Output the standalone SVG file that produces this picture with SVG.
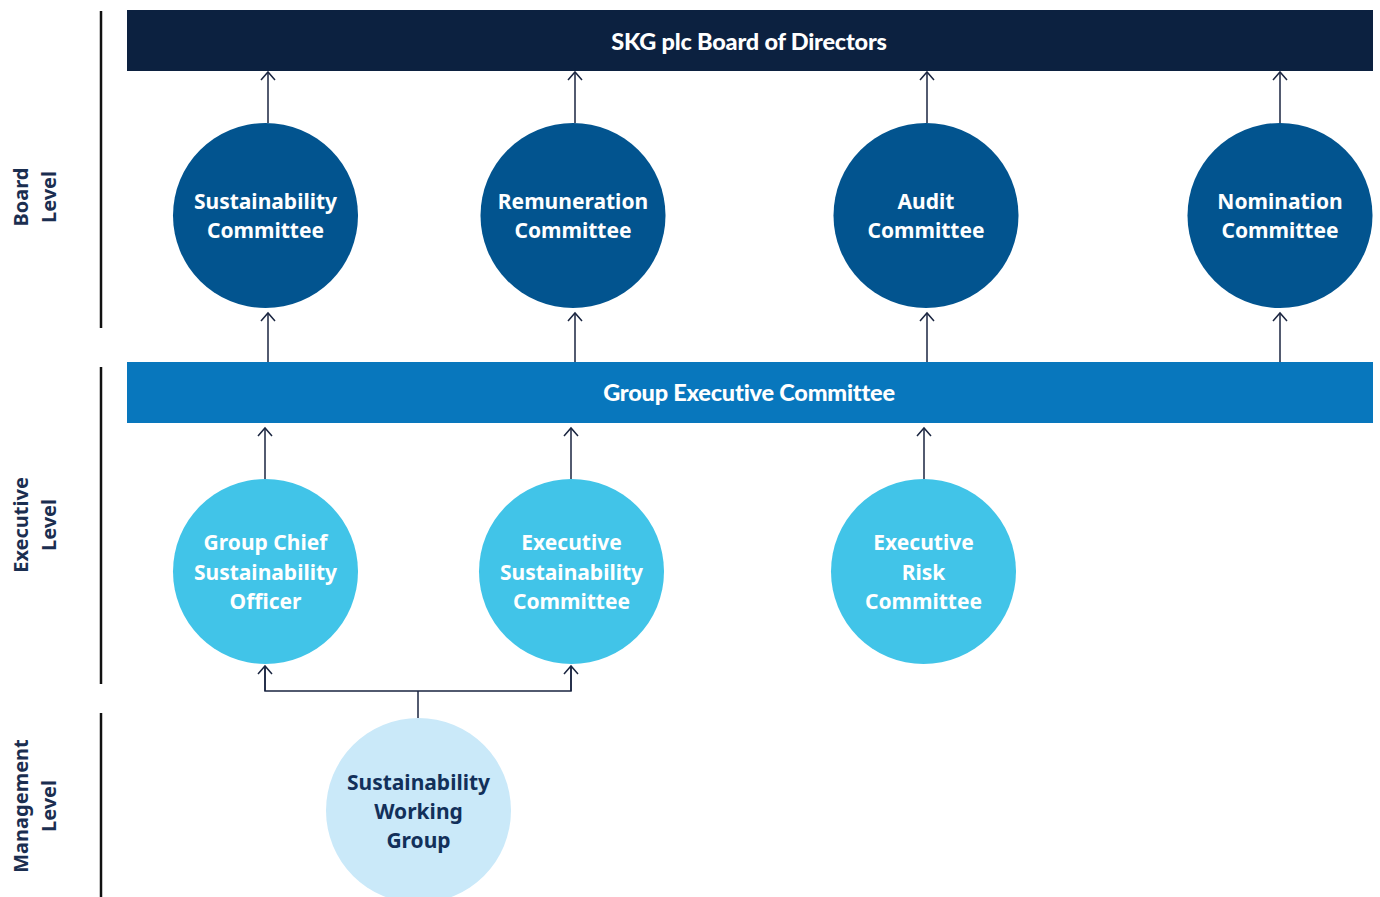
<svg xmlns="http://www.w3.org/2000/svg" width="1380" height="897" viewBox="0 0 1380 897">
  <defs>
    <marker id="arr" viewBox="-10 -8 12 16" refX="0" refY="0" markerWidth="12" markerHeight="16" markerUnits="userSpaceOnUse" orient="auto">
      <path d="M-8,-7 L0,0 L-8,7" fill="none" stroke="#1a2540" stroke-width="1.5"/>
    </marker>
  </defs>
  <style>
    .t { font-family: "Noto Sans", "Liberation Sans", sans-serif; font-weight: 700; font-size: 21px; text-anchor: middle; dominant-baseline: central; }
    .bar { font-family: "Lato", "Noto Sans", "Liberation Sans", sans-serif; font-weight: 900; font-size: 23.5px; fill: #ffffff; text-anchor: middle; dominant-baseline: central; letter-spacing: -0.2px; }
    .w { fill: #ffffff; }
    .d { fill: #12305a; }
    .lvl { font-family: "Noto Sans", "Liberation Sans", sans-serif; font-weight: 700; font-size: 20px; fill: #1b2e50; text-anchor: middle; dominant-baseline: central; }
    .sep { stroke: #111111; stroke-width: 2.5; }
    .c { stroke: #1a2540; stroke-width: 1.5; fill: none; }
    .board { fill: #02548f; }
    .exec { fill: #41c4e8; }
    .mgmt { fill: #cae9f9; }
  </style>

  <rect width="1380" height="897" fill="#ffffff"/>

  <!-- level labels and separators -->
  <g id="levels">
    <line class="sep" x1="101" y1="11" x2="101" y2="328"/>
    <line class="sep" x1="101" y1="367" x2="101" y2="684"/>
    <line class="sep" x1="101" y1="713" x2="101" y2="897"/>
    <text class="lvl" transform="translate(20,197) rotate(-90)">Board</text>
    <text class="lvl" transform="translate(48,197) rotate(-90)">Level</text>
    <text class="lvl" transform="translate(20,525) rotate(-90)">Executive</text>
    <text class="lvl" transform="translate(48,525) rotate(-90)">Level</text>
    <text class="lvl" transform="translate(20,806) rotate(-90)">Management</text>
    <text class="lvl" transform="translate(48,806) rotate(-90)">Level</text>
  </g>

  <!-- connectors -->
  <g id="connectors">
    <line class="c" x1="268" y1="123" x2="268" y2="72" marker-end="url(#arr)"/>
    <line class="c" x1="575" y1="123" x2="575" y2="72" marker-end="url(#arr)"/>
    <line class="c" x1="927" y1="123" x2="927" y2="72" marker-end="url(#arr)"/>
    <line class="c" x1="1280" y1="123" x2="1280" y2="72" marker-end="url(#arr)"/>

    <line class="c" x1="268" y1="362" x2="268" y2="313" marker-end="url(#arr)"/>
    <line class="c" x1="575" y1="362" x2="575" y2="313" marker-end="url(#arr)"/>
    <line class="c" x1="927" y1="362" x2="927" y2="313" marker-end="url(#arr)"/>
    <line class="c" x1="1280" y1="362" x2="1280" y2="313" marker-end="url(#arr)"/>

    <line class="c" x1="265" y1="479" x2="265" y2="428" marker-end="url(#arr)"/>
    <line class="c" x1="571" y1="479" x2="571" y2="428" marker-end="url(#arr)"/>
    <line class="c" x1="924" y1="479" x2="924" y2="428" marker-end="url(#arr)"/>

    <line class="c" x1="418" y1="718" x2="418" y2="691"/>
    <polyline class="c" points="265,666 265,691 571,691 571,666"/>
    <line class="c" x1="265" y1="691" x2="265" y2="666" marker-end="url(#arr)"/>
    <line class="c" x1="571" y1="691" x2="571" y2="666" marker-end="url(#arr)"/>
  </g>

  <g id="board-of-directors">
    <rect x="127" y="10" width="1246" height="61" fill="#0c2140"/>
    <text class="bar" x="749" y="41">SKG plc Board of Directors</text>
  </g>

  <g id="group-executive-committee">
    <rect x="127" y="362" width="1246" height="61" fill="#0877bd"/>
    <text class="bar" x="749" y="392">Group Executive Committee</text>
  </g>

  <g id="sustainability-committee">
    <circle class="board" cx="265.5" cy="215.5" r="92.5"/>
    <text class="t w" x="265.5" y="201">Sustainability</text>
    <text class="t w" x="265.5" y="230">Committee</text>
  </g>
  <g id="remuneration-committee">
    <circle class="board" cx="573" cy="215.5" r="92.5"/>
    <text class="t w" x="573" y="201">Remuneration</text>
    <text class="t w" x="573" y="230">Committee</text>
  </g>
  <g id="audit-committee">
    <circle class="board" cx="926" cy="215.5" r="92.5"/>
    <text class="t w" x="926" y="201">Audit</text>
    <text class="t w" x="926" y="230">Committee</text>
  </g>
  <g id="nomination-committee">
    <circle class="board" cx="1280" cy="215.5" r="92.5"/>
    <text class="t w" x="1280" y="201">Nomination</text>
    <text class="t w" x="1280" y="230">Committee</text>
  </g>

  <g id="group-chief-sustainability-officer">
    <circle class="exec" cx="265.5" cy="571.5" r="92.5"/>
    <text class="t w" x="265.5" y="542">Group Chief</text>
    <text class="t w" x="265.5" y="572">Sustainability</text>
    <text class="t w" x="265.5" y="601">Officer</text>
  </g>
  <g id="executive-sustainability-committee">
    <circle class="exec" cx="571.5" cy="571.5" r="92.5"/>
    <text class="t w" x="571.5" y="542">Executive</text>
    <text class="t w" x="571.5" y="572">Sustainability</text>
    <text class="t w" x="571.5" y="601">Committee</text>
  </g>
  <g id="executive-risk-committee">
    <circle class="exec" cx="923.5" cy="571.5" r="92.5"/>
    <text class="t w" x="923.5" y="542">Executive</text>
    <text class="t w" x="923.5" y="572">Risk</text>
    <text class="t w" x="923.5" y="601">Committee</text>
  </g>

  <g id="sustainability-working-group">
    <circle class="mgmt" cx="418.5" cy="810.5" r="92.5"/>
    <text class="t d" x="418.5" y="782">Sustainability</text>
    <text class="t d" x="418.5" y="811">Working</text>
    <text class="t d" x="418.5" y="840">Group</text>
  </g>
</svg>
